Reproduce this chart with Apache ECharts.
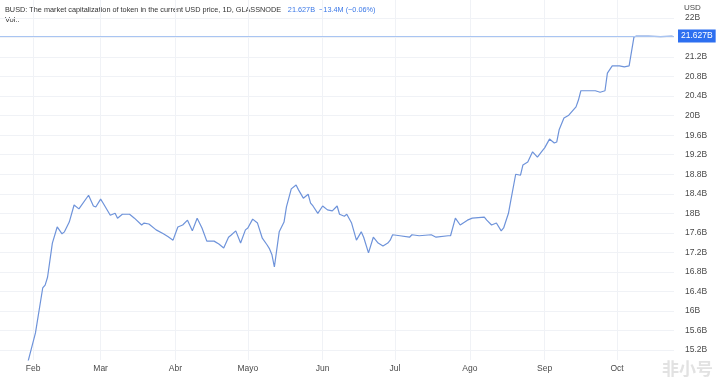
<!DOCTYPE html>
<html>
<head>
<meta charset="utf-8">
<script src="https://cdn.jsdelivr.net/npm/echarts@6/dist/echarts.min.js"></script>
<style>
html,body{margin:0;padding:0;background:#fff;}
#chart{width:719px;height:381px;}
</style>
</head>
<body>
<div id="chart"></div>
<script>
// ---- data (BUSD market cap, billions USD) ----
var dates = [
 '2022-01-29','2022-02-02','2022-02-05','2022-02-06','2022-02-07','2022-02-09','2022-02-11','2022-02-13','2022-02-14','2022-02-16',
 '2022-02-18','2022-02-20','2022-02-24','2022-02-26','2022-02-27','2022-03-01','2022-03-02','2022-03-05','2022-03-07','2022-03-08',
 '2022-03-10','2022-03-13','2022-03-15','2022-03-18','2022-03-19','2022-03-21','2022-03-24','2022-03-27','2022-03-29','2022-03-31',
 '2022-04-02','2022-04-04','2022-04-06','2022-04-08','2022-04-10','2022-04-12','2022-04-14','2022-04-17','2022-04-19','2022-04-21',
 '2022-04-23','2022-04-24','2022-04-26','2022-04-28','2022-04-30','2022-05-01','2022-05-03','2022-05-05','2022-05-07','2022-05-09',
 '2022-05-10','2022-05-11','2022-05-12','2022-05-14','2022-05-16','2022-05-17','2022-05-19','2022-05-21','2022-05-22','2022-05-24',
 '2022-05-26','2022-05-27','2022-05-28','2022-05-30','2022-06-01','2022-06-03','2022-06-05','2022-06-07','2022-06-08','2022-06-10',
 '2022-06-11','2022-06-13','2022-06-15','2022-06-17','2022-06-18','2022-06-20','2022-06-22','2022-06-24','2022-06-26','2022-06-28',
 '2022-06-29','2022-06-30','2022-07-03','2022-07-07','2022-07-08','2022-07-11','2022-07-16','2022-07-18','2022-07-23','2022-07-24',
 '2022-07-26','2022-07-28','2022-07-31','2022-08-02','2022-08-07','2022-08-08','2022-08-10','2022-08-12','2022-08-14','2022-08-15',
 '2022-08-17','2022-08-18','2022-08-20','2022-08-22','2022-08-23','2022-08-25','2022-08-27','2022-08-29','2022-08-31','2022-09-01',
 '2022-09-03','2022-09-05','2022-09-06','2022-09-07','2022-09-09','2022-09-11','2022-09-14','2022-09-15','2022-09-16','2022-09-22',
 '2022-09-24','2022-09-26','2022-09-27','2022-09-29','2022-10-02','2022-10-04','2022-10-06','2022-10-08','2022-10-09','2022-10-14',
 '2022-10-19','2022-10-24'
];
var marketCap = [
 14.79,15.55,16.47,16.53,16.69,17.39,17.72,17.58,17.62,17.82,
 18.17,18.09,18.37,18.15,18.13,18.29,18.21,17.96,18.00,17.90,
 17.98,17.98,17.90,17.76,17.80,17.78,17.66,17.58,17.52,17.45,
 17.72,17.76,17.86,17.64,17.90,17.70,17.43,17.43,17.37,17.29,
 17.51,17.55,17.64,17.39,17.66,17.70,17.88,17.80,17.49,17.35,
 17.27,17.15,16.90,17.62,17.82,18.13,18.50,18.58,18.48,18.31,
 18.39,18.21,18.15,18.00,18.15,18.07,18.05,18.15,17.98,17.94,
 17.98,17.80,17.45,17.62,17.51,17.19,17.51,17.39,17.33,17.39,
 17.45,17.56,17.54,17.51,17.56,17.54,17.56,17.51,17.54,17.54,
 17.90,17.76,17.86,17.90,17.92,17.86,17.76,17.80,17.64,17.70,
 18.00,18.27,18.80,18.78,18.99,19.05,19.26,19.15,19.28,19.34,
 19.52,19.44,19.46,19.71,19.95,20.01,20.18,20.32,20.51,20.51,
 20.48,20.51,20.87,21.02,21.02,21.00,21.02,21.61,21.63,21.63,
 21.62,21.627
];
var yTicks = [15.2,15.6,16,16.4,16.8,17.2,17.6,18,18.4,18.8,19.2,19.6,20,20.4,20.8,21.2,21.6,22];
var monthNames = ['Feb','Mar','Abr','Mayo','Jun','Jul','Ago','Sep','Oct'];
var monthStarts = ['2022-02-01','2022-03-01','2022-04-01','2022-05-01','2022-06-01','2022-07-01','2022-08-01','2022-09-01','2022-10-01'];
var lastValue = 21.627;
var headerTitle = 'BUSD: The market capitalization of token in the current USD price, 1D, GLASSNODE';
var headerValue = '21.627B  \u221213.4M (\u22120.06%)';

// ---- chart ----
var DAY = 86400000;
function dayIndex(s){var p=s.split('-');return Math.round((Date.UTC(+p[0],+p[1]-1,+p[2]) - Date.UTC(2022,1,1))/DAY);}
var monthStartDays = monthStarts.map(dayIndex);
var yLabelTicks = yTicks.filter(function(v){return v!==21.6;});
var FONT = '"Liberation Sans", Arial, sans-serif';

var chart = echarts.init(document.getElementById('chart'), null, {renderer:'canvas'});
chart.setOption({
  animation:false,
  backgroundColor:'#ffffff',
  grid:{left:0, right:45, top:0, bottom:21, containLabel:false},
  xAxis:{
    type:'value',
    min:-13.7,
    max:265.6,
    axisLine:{show:false},
    axisTick:{show:false, customValues: monthStartDays},
    splitLine:{show:true, lineStyle:{color:'#f0f2f6', width:1}},
    axisLabel:{
      customValues: monthStartDays,
      margin:4,
      fontSize:8.5,
      color:'#4a4a4a',
      fontFamily:FONT,
      formatter:function(v){
        var i=monthStartDays.indexOf(Math.round(v));
        return i>=0 ? monthNames[i] : '';
      }
    }
  },
  yAxis:{
    type:'value',
    position:'right',
    min:14.995,
    max:22.369,
    axisLine:{show:false},
    axisTick:{show:false, customValues: yTicks},
    splitLine:{show:true, lineStyle:{color:'#f0f2f6', width:1}},
    axisLabel:{
      customValues: yLabelTicks,
      margin:11,
      fontSize:8.5,
      align:'left',
      color:'#4a4a4a',
      fontFamily:FONT,
      formatter:function(v){return (Math.round(v*10)/10)+'B';}
    }
  },
  series:[{
    type:'line',
    data: dates.map(function(d,i){return [dayIndex(d), marketCap[i]];}),
    showSymbol:false,
    clip:true,
    lineStyle:{color:'#6e93da', width:1.2},
    markLine:{
      silent:true,
      symbol:['none','none'],
      data:[{yAxis:lastValue}],
      lineStyle:{color:'#a9c5f2', width:1, type:'solid'},
      label:{
        show:true,
        position:'end',
        distance:4,
        formatter:function(){return lastValue.toFixed(3)+'B';},
        backgroundColor:'#2d6ff0',
        color:'#ffffff',
        fontSize:8.5,
        fontFamily:FONT,
        padding:[2,3,2,3]
      }
    }
  }],
  graphic:[
    {type:'text', left:5, top:4, style:{
      text:'{a|' + headerTitle + '}  {b|' + headerValue + '}',
      rich:{
        a:{fill:'#333', fontSize:7.3, fontFamily:FONT},
        b:{fill:'#3b78e7', fontSize:7.3, fontFamily:FONT}
      }
    }},
    {type:'text', left:5, top:16, style:{text:'Vol.:', fill:'#333', font:'7.5px ' + FONT}},
    {type:'text', left:684, top:4, style:{text:'USD', fill:'#4a4a4a', font:'8px ' + FONT}},
    {type:'text', right:6, bottom:4, style:{text:'非小号', fill:'#e2e2e2', font:'bold 17px "Noto Sans CJK SC", sans-serif'}}
  ]
});
</script>
</body>
</html>
